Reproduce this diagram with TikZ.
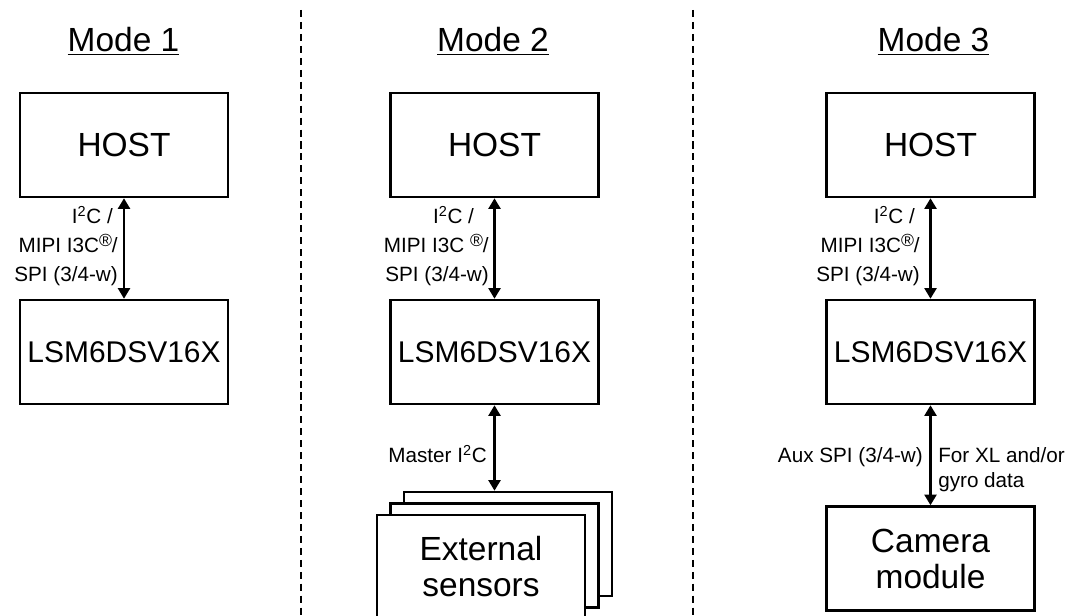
\documentclass[tikz,border=0pt]{standalone}
\usepackage{fontspec}
\setmainfont{Liberation Sans}
\usetikzlibrary{arrows.meta}
\newcommand{\regmark}{\raisebox{0.55ex}{\fontsize{12.5}{12.5}\selectfont\textregistered}}

\begin{document}
\begin{tikzpicture}[x=0.025cm, y=-0.025cm, >={Triangle[length=7.5pt,width=8.5pt]},
    block/.style={draw, line width=1.8pt, fill=white, minimum width=5.2cm, minimum height=2.6cm, inner sep=0pt, align=center, font=\fontsize{23.8}{25.6}\selectfont},
    chip/.style={block, font=\fontsize{21.3}{24}\selectfont},
    title/.style={anchor=base, font=\fontsize{23.8}{28}\selectfont},
    bus/.style={<->, line width=1.6pt},
    lbl/.style={inner sep=0pt, font=\fontsize{14.7}{20.6}\selectfont}]
    \useasboundingbox (0,0) rectangle (1080,616);

    \node[title] (T1) at (123.5,52) {\underline{Mode 1}};
    \node[title] (T2) at (493,52) {\underline{Mode 2}};
    \node[title] (T3) at (933.5,52) {\underline{Mode 3}};
    \draw[line width=1.3pt, dash pattern=on 5pt off 3.5pt] (301,10) -- (301,616);
    \draw[line width=1.3pt, dash pattern=on 5pt off 3.5pt] (693,10) -- (693,616);

    \node[block] (H1) at (124,145) {HOST};
    \node[chip] (L1) at (124,352) {LSM6DSV16X};
    \node[lbl, anchor=east, align=right] (B1) at (118,246) {I\textsuperscript{2}C /\hspace*{3.5pt}\\MIPI I3C\regmark/\\SPI (3/4-w)};

    \node[block] (H2) at (494.5,145) {HOST};
    \node[chip] (L2) at (494.5,352) {LSM6DSV16X};
    \node[lbl, anchor=east, align=right] (B2) at (489,246) {I\textsuperscript{2}C /\hspace*{10.5pt}\\MIPI I3C \regmark/\\SPI (3/4-w)};
    \node[block] (S3) at (508,544) {};
    \node[block] (S2) at (494.5,555.5) {};
    \node[block] (S1) at (481,567) {External\\sensors};
    \node[lbl, anchor=east] (M2) at (487,454) {Master I\textsuperscript{2}C};

    \node[block] (H3) at (930.5,145) {HOST};
    \node[chip] (L3) at (930.5,352) {LSM6DSV16X};
    \node[lbl, anchor=east, align=right] (B3) at (920,246) {I\textsuperscript{2}C /\hspace*{3.5pt}\\MIPI I3C\regmark/\\SPI (3/4-w)};
    \node[block] (C3) at (930.5,558.5) {Camera\\module};
    \node[lbl, anchor=east] (A3) at (923,457) {Aux SPI (3/4-w)};
    \node[lbl, anchor=west, align=left, font=\fontsize{14.7}{17.8}\selectfont] (X3) at (938,469.5) {For XL and/or\\gyro data};

    \path[bus]
    (H1) edge (L1)
    (H2) edge (L2)
    (L2) edge (L2 |- S3.north)
    (H3) edge (L3)
    (L3) edge (C3);
\end{tikzpicture}
\end{document}
